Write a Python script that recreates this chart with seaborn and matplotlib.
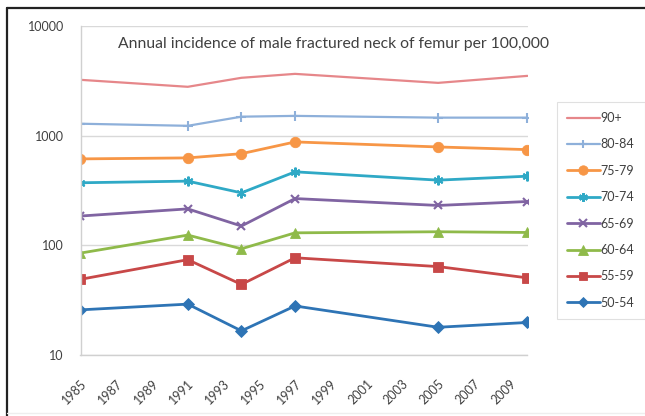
import matplotlib
matplotlib.use("Agg")
import matplotlib.pyplot as plt
from matplotlib.lines import Line2D
import seaborn as sns
import pandas as pd

# Survey years and annual incidence per 100,000 men, by age band
years = [1985, 1991, 1994, 1997, 2005, 2010]
age_groups = ["90+", "80-84", "75-79", "70-74", "65-69", "60-64", "55-59", "50-54"]
rate_90_plus = [3230, 2790, 3370, 3660, 3030, 3510]
rate_80_84 = [1285, 1230, 1490, 1515, 1460, 1460]
rate_75_79 = [614, 627, 685, 877, 789, 746]
rate_70_74 = [372, 385, 301, 468, 393, 427]
rate_65_69 = [185, 215, 150, 267, 231, 251]
rate_60_64 = [85, 124, 93, 130, 133, 131]
rate_55_59 = [49, 74, 44, 77, 64, 50.5]
rate_50_54 = [25.8, 29.1, 16.6, 28, 17.9, 19.8]
tick_years = list(range(1985, 2010, 2))

rates = [rate_90_plus, rate_80_84, rate_75_79, rate_70_74,
         rate_65_69, rate_60_64, rate_55_59, rate_50_54]

df = pd.concat(
    [pd.DataFrame({"year": years, "rate": r, "age": g}) for g, r in zip(age_groups, rates)],
    ignore_index=True,
)

styles = {
    "90+":   dict(color="#E6878A", marker=None, ms=0, lw=1.6),
    "80-84": dict(color="#8EB0DA", marker="+", ms=7, lw=1.6),
    "75-79": dict(color="#F79646", marker="o", ms=7.5, lw=2.0),
    "70-74": dict(color="#2FA9C6", marker=(6, 2, 0), ms=7, lw=2.0),
    "65-69": dict(color="#8064A2", marker="x", ms=6, lw=2.0),
    "60-64": dict(color="#8FBA4A", marker="^", ms=7.5, lw=2.0),
    "55-59": dict(color="#C84848", marker="s", ms=7, lw=2.0),
    "50-54": dict(color="#2E74B5", marker="D", ms=6, lw=2.0),
}
thin_markers = ("+", "x", (6, 2, 0))

sns.set_style("white")
plt.rcParams["font.family"] = ["Lato", "DejaVu Sans"]
text_color = "#404040"

fig = plt.figure(figsize=(6.45, 4.16), dpi=100)
ax = fig.add_axes([80.5 / 645, 1 - 355 / 416, 447 / 645, 329 / 416])

# draw lowest band first so upper lines sit on top
for g in age_groups[::-1]:
    st = styles[g]
    sub = df[df["age"] == g]
    sns.lineplot(data=sub, x="year", y="rate", ax=ax, color=st["color"],
                 linewidth=st["lw"], marker=st["marker"], markersize=st["ms"],
                 markeredgewidth=1.5 if st["marker"] in thin_markers else 0.6,
                 markeredgecolor=st["color"], legend=False)

handles = []
for g in age_groups:
    st = styles[g]
    handles.append(Line2D([], [], color=st["color"], lw=st["lw"], marker=st["marker"],
                          markersize=st["ms"] * 0.9, markeredgecolor=st["color"],
                          markeredgewidth=1.5 if st["marker"] in thin_markers else 0.6,
                          label=g))

ax.set_yscale("log")
ax.set_ylim(10, 10000)
ax.set_xlim(1985, 2010)
ax.set_yticks([10, 100, 1000, 10000])
ax.set_yticklabels(["10", "100", "1000", "10000"])
ax.minorticks_off()
ax.set_xticks(tick_years)
ax.set_xticklabels([str(y) for y in tick_years], rotation=45, ha="right", va="top",
                   rotation_mode="anchor")
ax.set_xlabel("")
ax.set_ylabel("")
ax.grid(axis="y", color="#D9D9D9", linewidth=1.0)
ax.grid(axis="x", visible=False)
for side in ("top", "right"):
    ax.spines[side].set_visible(False)
for side in ("left", "bottom"):
    ax.spines[side].set_color("#D0D0D0")
    ax.spines[side].set_linewidth(1.0)
ax.tick_params(axis="y", length=0, pad=12, labelsize=9, labelcolor=text_color)
ax.tick_params(axis="x", length=4, direction="out", color="#C8C8C8", pad=12,
               labelsize=9, labelcolor=text_color)

ax.text(0.567, 0.945, "Annual incidence of male fractured neck of femur per 100,000",
        transform=ax.transAxes, ha="center", va="center", fontsize=11.3, color=text_color)

leg = fig.legend(handles=handles, loc="upper left", bbox_to_anchor=(557 / 645, 1 - 102 / 416),
                 frameon=True, fancybox=False, fontsize=9, handlelength=2.6,
                 handletextpad=0.1, labelspacing=1.15, borderpad=0.8, borderaxespad=0)
leg.get_frame().set_edgecolor("#D9D9D9")
leg.get_frame().set_linewidth(0.8)
for t in leg.get_texts():
    t.set_color(text_color)

# frame around the chart area
fig.add_artist(Line2D([7 / 645, 1], [1 - 8 / 416, 1 - 8 / 416], color="#222222", lw=1.6,
                      transform=fig.transFigure))
fig.add_artist(Line2D([7 / 645, 7 / 645], [0, 1 - 8 / 416], color="#222222", lw=1.6,
                      transform=fig.transFigure))
fig.add_artist(Line2D([7 / 645, 1], [3 / 416, 3 / 416], color="#EEEEEE", lw=1.0,
                      transform=fig.transFigure))

fig.savefig("out.png", dpi=100)
